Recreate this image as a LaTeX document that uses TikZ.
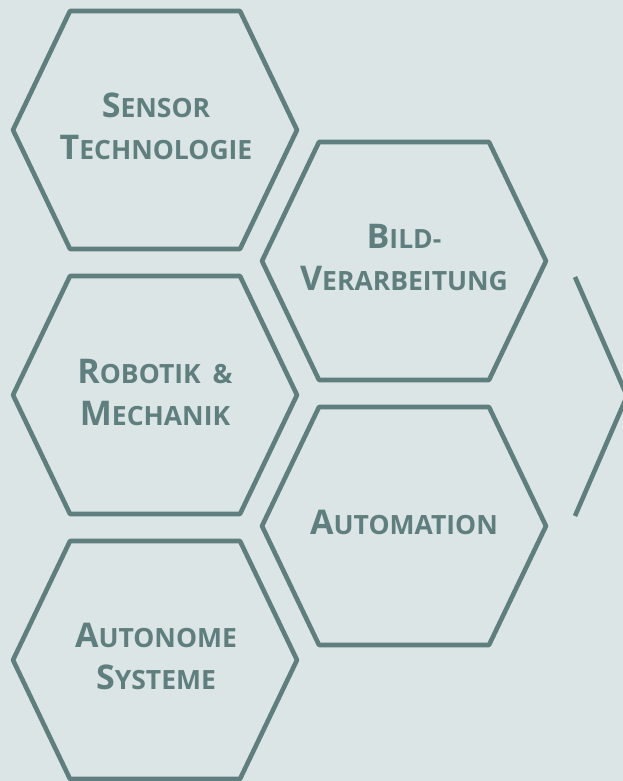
\documentclass[tikz,border=0pt]{standalone}
\usepackage{fontspec}
\setmainfont{Open Sans}[BoldFont={* Bold}]
\definecolor{bgc}{HTML}{DCE5E6}
\definecolor{hexc}{HTML}{5F7E7E}
\newcommand\bigsc[1]{{\fontsize{34}{42}\selectfont #1}}
\tikzset{
  hexline/.style={draw=hexc, line width=4.6pt, line join=round},
  hexlabel/.style={text=hexc, font=\bfseries\fontsize{26.5}{42}\selectfont, align=center, inner sep=0pt},
}
\newcommand\hexat[2]{\draw[hexline] (#1-85,#2-119) -- (#1+85,#2-119) -- (#1+142,#2) -- (#1+85,#2+119) -- (#1-85,#2+119) -- (#1-142,#2) -- cycle;}
\begin{document}
\begin{tikzpicture}[x=1pt,y=-1pt]
\fill[bgc] (0,0) rectangle (623,781);
\useasboundingbox (0,0) rectangle (623,781);
\hexat{155}{130}
\hexat{155}{395}
\hexat{155}{660}
\hexat{404}{261}
\hexat{404}{526}
\coordinate (pa) at (575,277);
\coordinate (pb) at (627,396);
\coordinate (pc) at (575,516);
\begin{scope}
\clip (0,0) rectangle (623,781);
\draw[hexline] (pa) -- (pb) -- (pc);
\end{scope}
\node[hexlabel] (sensor) at (156,126) {\bigsc{S}ENSOR\\\bigsc{T}ECHNOLOGIE};
\node[hexlabel] (robotik) at (155,392) {\bigsc{R}OBOTIK\hspace{0.45em}\&\\\bigsc{M}ECHANIK};
\node[hexlabel] (autonome) at (156,656) {\bigsc{A}UTONOME\\\bigsc{S}YSTEME};
\node[hexlabel] (bild) at (404,257) {\bigsc{B}ILD-\\\bigsc{V}ERARBEITUNG};
\node[hexlabel] (automation) at (404,522) {\bigsc{A}UTOMATION};
\end{tikzpicture}
\end{document}
